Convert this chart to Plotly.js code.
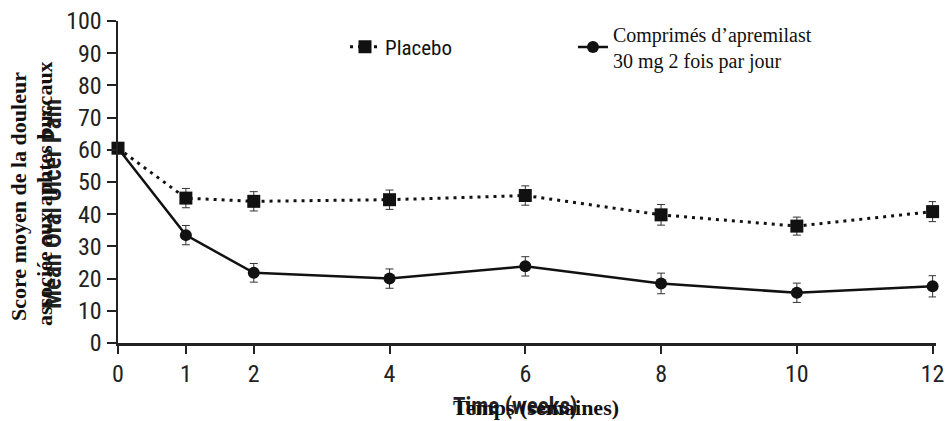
<!DOCTYPE html>
<html><head><meta charset="utf-8">
<script src="https://cdn.plot.ly/plotly-3.0.1.min.js"></script>
<style>html,body{margin:0;padding:0;background:#fff}#chart{width:949px;height:421px}</style>
</head><body><div id="chart"></div>
<script>
const weeks = [0, 1, 2, 4, 6, 8, 10, 12];
const placeboMean = [60.5, 45, 44, 44.5, 45.8, 39.8, 36.3, 40.8];
const placeboErr  = [0, 3.0, 3.0, 3.0, 3.0, 3.2, 2.8, 3.1];
const apremMean   = [60.5, 33.5, 21.8, 20, 23.8, 18.5, 15.6, 17.6];
const apremErr    = [0, 3.0, 2.9, 3.0, 3.0, 3.2, 3.0, 3.3];
const xTicks = [0, 1, 2, 4, 6, 8, 10, 12];
const yTicks = [0, 10, 20, 30, 40, 50, 60, 70, 80, 90, 100];

const narrow = "'Liberation Sans Narrow', 'Arial Narrow', 'Roboto Condensed', sans-serif";
const serif = "'Liberation Serif', 'Times New Roman', serif";

const traces = [
  {
    x: weeks, y: apremMean, type: 'scatter', mode: 'lines+markers',
    name: 'Comprimés d’apremilast<br>30 mg 2 fois par jour',
    line: {color: '#111', width: 2.5},
    marker: {symbol: 'circle', size: 12, color: '#111'},
    error_y: {type: 'data', array: apremErr, visible: true, color: '#333', thickness: 1, width: 4},
    cliponaxis: false, legend: 'legend2'
  },
  {
    x: weeks, y: placeboMean, type: 'scatter', mode: 'lines+markers',
    name: 'Placebo',
    line: {color: '#111', width: 3, dash: '3px,5px'},
    marker: {symbol: 'square', size: 13, color: '#111'},
    error_y: {type: 'data', array: placeboErr, visible: true, color: '#333', thickness: 1, width: 4},
    cliponaxis: false, legend: 'legend'
  }
];

const layout = {
  width: 949, height: 421,
  margin: {l: 118, r: 13, t: 21, b: 78},
  paper_bgcolor: '#fff', plot_bgcolor: '#fff',
  showlegend: true,
  legend: {
    x: 0.2775, xanchor: 'left', y: 0.919, yanchor: 'middle',
    font: {family: narrow, size: 21, color: '#111'},
    bgcolor: 'rgba(0,0,0,0)', valign: 'middle'
  },
  legend2: {
    x: 0.5562, xanchor: 'left', y: 0.919, yanchor: 'middle',
    font: {family: serif, size: 20, color: '#111'},
    bgcolor: 'rgba(0,0,0,0)', valign: 'middle'
  },
  xaxis: {
    range: [0, 12.05], tickvals: xTicks, ticktext: xTicks.map(String),
    showgrid: false, zeroline: false, showline: true, linecolor: '#222', linewidth: 2.5,
    ticks: 'outside', ticklen: 8, tickwidth: 2, tickcolor: '#222',
    tickfont: {family: narrow, size: 24, color: '#222'}
  },
  yaxis: {
    range: [0, 100], tickvals: yTicks, ticktext: yTicks.map(String),
    showgrid: false, zeroline: false, showline: true, linecolor: '#222', linewidth: 2.5,
    ticks: 'outside', ticklen: 9, tickwidth: 2, tickcolor: '#222',
    tickfont: {family: narrow, size: 24, color: '#222'}
  },
  annotations: [
    {text: '<b>Mean Oral Ulcer Pain</b>', xref: 'paper', yref: 'paper', x: 0, y: 0.5, xanchor: 'center', yanchor: 'middle',
     xshift: -66, yshift: -22, textangle: -90, showarrow: false, font: {family: narrow, size: 25, color: '#222'}},
    {text: '<b>Score moyen de la douleur</b>', xref: 'paper', yref: 'paper', x: 0, y: 0.5, xanchor: 'center', yanchor: 'middle',
     xshift: -100, yshift: -15, textangle: -90, showarrow: false, font: {family: serif, size: 22, color: '#111'}},
    {text: '<b>associée aux aphtes buccaux</b>', xref: 'paper', yref: 'paper', x: 0, y: 0.5, xanchor: 'center', yanchor: 'middle',
     xshift: -74, yshift: -12, textangle: -90, showarrow: false, font: {family: serif, size: 22, color: '#111'}},
    {text: '<b>Time (weeks)</b>', xref: 'paper', yref: 'paper', x: 0, y: 0, xanchor: 'left', yanchor: 'middle',
     xshift: 333, yshift: -63, showarrow: false, font: {family: narrow, size: 23, color: '#222'}},
    {text: '<b>Temps (semaines)</b>', xref: 'paper', yref: 'paper', x: 0, y: 0, xanchor: 'left', yanchor: 'middle',
     xshift: 333, yshift: -64, showarrow: false, font: {family: serif, size: 22, color: '#111'}}
  ]
};

Plotly.newPlot('chart', traces, layout, {displayModeBar: false, staticPlot: true});
</script></body></html>
